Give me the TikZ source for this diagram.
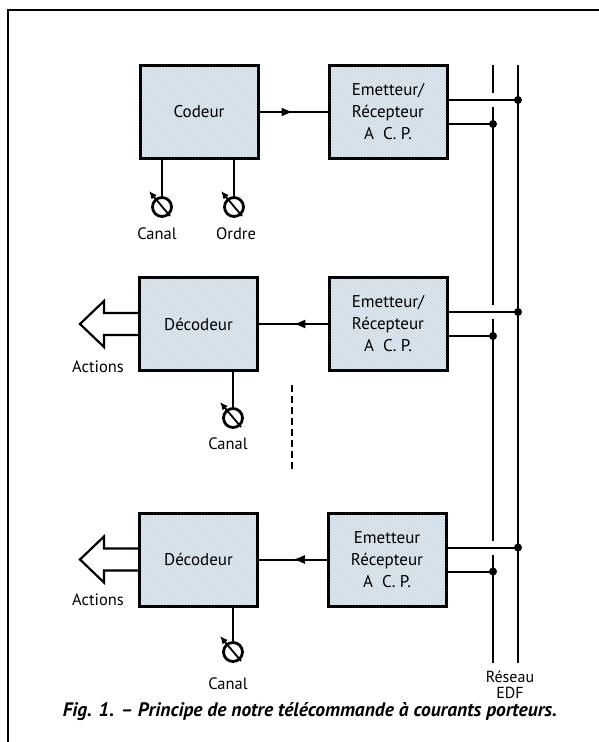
\documentclass[tikz,border=0pt]{standalone}
\usepackage{fontspec}
\setmainfont{PT Sans}
\usepackage{tikz}
\usetikzlibrary{arrows.meta, positioning, calc, patterns, decorations.markings}
\definecolor{boxfill}{RGB}{228,237,244}
\definecolor{hatch}{RGB}{188,202,215}

\tikzset{
  bloc/.style={draw, line width=3pt, minimum width=118pt, minimum height=93pt,
    preaction={fill=boxfill}, pattern=north west lines, pattern color=hatch,
    align=center, font=\fontsize{17}{22}\selectfont},
  knob/.style={circle, draw, line width=2.8pt, minimum size=19pt, inner sep=0pt},
  dot/.style={circle, fill, inner sep=0pt, minimum size=8pt},
  lbl/.style={font=\fontsize{16.5}{17}\selectfont, inner sep=0pt},
  midarrow/.style={postaction={decorate}, decoration={markings,
    mark=at position 0.5 with {\arrow{Latex[length=12pt,width=9pt]}}}},
}

\begin{document}
\begin{tikzpicture}[x=1pt, y=-1pt, line width=2pt]
    \useasboundingbox[fill=white] (0,0) rectangle (599,742);
    % frame
    \draw[line width=2.2pt] (8,742) -- (8,10) -- (599,10);

    % Emetteur (top row)
    \node[bloc] (cod) at (199,112) {Codeur};
    \node[bloc] (em1) at (388,112) {Emetteur/\\Récepteur\\A\ \ C.\ P.};
    \draw[midarrow] (cod) -- (em1);
    \node[knob] (k1) at (162,207) {};
    \node[knob] (k2) at (234,207) {};
    \draw (cod.south -| k1) -- (k1.north);
    \draw (cod.south -| k2) -- (k2.north);
    \node[lbl] (canal1) at (157,234) {Canal};
    \node[lbl] (ordre) at (236,234) {Ordre};

    % Recepteur 1
    \node[bloc] (dec2) at (198.5,324) {Décodeur};
    \node[bloc] (em2) at (388,324) {Emetteur/\\Récepteur\\A\ \ C.\ P.};
    \draw[midarrow] (em2) -- (dec2);
    \node[knob] (k3) at (233,418) {};
    \draw (dec2.south -| k3) -- (k3.north);
    \node[lbl] (canal2) at (228,444) {Canal};
    \node[lbl] (act2) at (98,367) {Actions};

    % dots between the receivers
    \coordinate (d0) at (292,385);
    \coordinate (d1) at (292,470);
    \draw[line width=1.8pt, dash pattern=on 7pt off 4pt] (d0) -- (d1);

    % Recepteur n
    \node[bloc] (dec3) at (198.5,559.5) {Décodeur};
    \node[bloc] (em3) at (387,559.5) {Emetteur\\Récepteur\\A\ \ C.\ P.};
    \draw[midarrow] (em3) -- (dec3);
    \node[knob] (k4) at (233,652) {};
    \draw (dec3.south -| k4) -- (k4.north);
    \node[lbl] (canal3) at (228,684) {Canal};
    \node[lbl] (act3) at (98,600) {Actions};

    % knob arrows
    \foreach \k in {k1,k2,k3,k4}
        \draw[line width=1.8pt, -{Latex[length=8pt,width=7pt]}] ($(\k)+(8,9)$) -- ($(\k)+(-13,-16)$);

    % hollow arrows out of the decoders
    \foreach \d in {dec2,dec3}
        \draw[line width=2.2pt, line join=miter] ($(\d.west)+(0,-11)$) -- ++(-34,0) -- ++(0,-12)
            -- ++(-24,23) -- ++(24,23) -- ++(0,-12) -- ($(\d.west)+(0,11)$);

    % Reseau EDF
    \coordinate (L0) at (493,65);
    \coordinate (L1) at (493,663);
    \coordinate (R0) at (518,65);
    \coordinate (R1) at (518,663);
    \draw (L0) -- (L1);
    \draw (R0) -- (R1);
    \foreach \e/\i in {em1/1,em2/2,em3/3} {
        \coordinate (wa\i) at ($(\e.east)+(0,-12)$);
        \coordinate (wb\i) at ($(\e.east)+(0,12)$);
        \draw[white, line width=5pt] (wa\i -| L0) ++(0,-7) -- ++(0,14);
        \draw (wa\i) -- (wa\i -| R0) node[dot] (dr\i) {};
        \draw (wb\i) -- (wb\i -| L0) node[dot] (dl\i) {};
    }
    \node[lbl, align=center, font=\fontsize{16}{16}\selectfont] (edf) at (510,685) {Réseau\\EDF};

    % caption
    \node[font=\fontsize{19.5}{21}\selectfont\bfseries\itshape] (cap) at (310,712)
        {Fig. 1. -- Principe de notre télécommande à courants porteurs.};
\end{tikzpicture}
\end{document}
